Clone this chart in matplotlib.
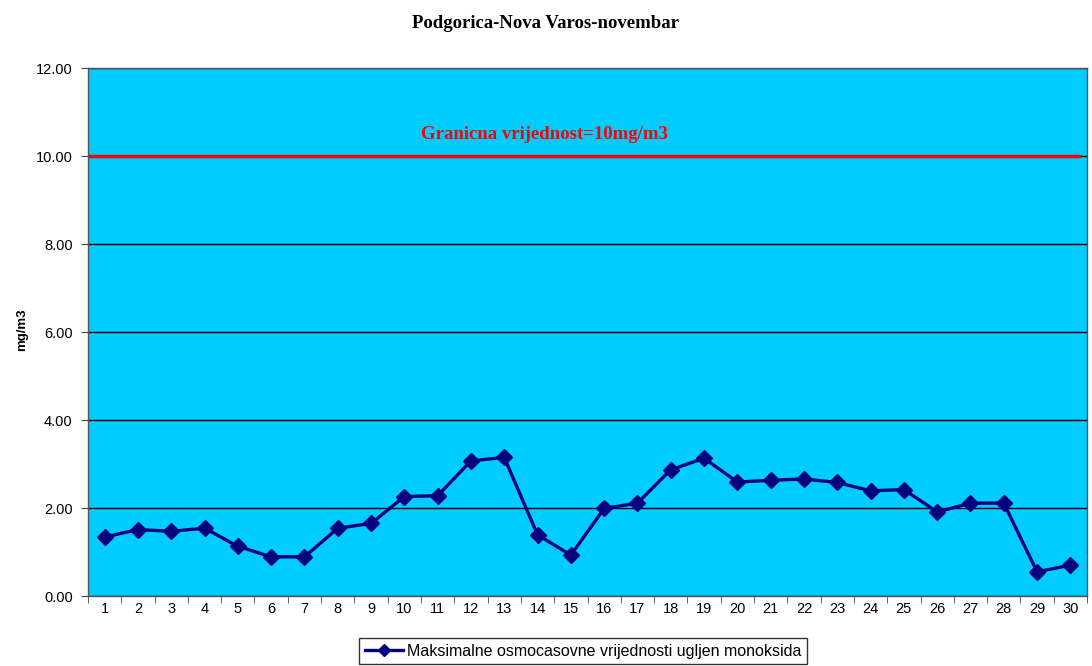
import matplotlib
matplotlib.use("Agg")
import matplotlib.pyplot as plt
from matplotlib.lines import Line2D

days = list(range(1, 31))
values = [1.34, 1.51, 1.47, 1.54, 1.13, 0.89, 0.89, 1.54, 1.65, 2.26,
          2.28, 3.07, 3.15, 1.39, 0.93, 1.99, 2.11, 2.87, 3.13, 2.59,
          2.63, 2.66, 2.58, 2.39, 2.42, 1.91, 2.11, 2.11, 0.55, 0.70]
limit_value = 10.0
yticks = [0, 2, 4, 6, 8, 10, 12]
title = "Podgorica-Nova Varos-novembar"
ylabel = "mg/m3"
limit_label = "Granicna vrijednost=10mg/m3"
series_label = "Maksimalne osmocasovne vrijednosti ugljen monoksida"

fig = plt.figure(figsize=(10.92, 6.66), dpi=100)
ax = fig.add_axes([88/1092, 1 - 596/666, (1087 - 88)/1092, (596 - 68)/666])
ax.set_facecolor("#00CCFF")

ax.set_xlim(0.5, 30.5)
ax.set_ylim(0, 12)
ax.set_yticks(yticks)
ax.set_yticklabels([f"{v:.2f}" for v in yticks], fontsize=10.5, family="Liberation Sans")
ax.yaxis.grid(True, color="black", linewidth=1.0)
ax.set_axisbelow(True)

ax.set_xticks(days)
ax.set_xticklabels([str(d) for d in days], fontsize=10.5, family="Liberation Sans")
ax.set_xticks([d + 0.5 for d in [0] + days], minor=True)
ax.tick_params(axis="x", which="major", length=0, pad=4)
ax.tick_params(axis="x", which="minor", length=5, color="#444444")
ax.tick_params(axis="y", length=5, color="#444444", pad=6)

for s in ["top", "right", "left", "bottom"]:
    ax.spines[s].set_color("#555555")
    ax.spines[s].set_linewidth(1.0)
    ax.spines[s].set_zorder(5)

ax.axhline(limit_value, xmin=0.0, xmax=0.992, color="#FF0000", linewidth=2.5, zorder=3)
ax.text(14.2, 10.48, limit_label, color="#FF0000", fontsize=13.5, fontweight="bold",
        family="Liberation Serif", ha="center", va="center")

ax.plot(days, values, color="#000080", linewidth=2.4, marker="D", markersize=8.5,
        markerfacecolor="#000080", markeredgecolor="#000080", zorder=4)

fig.text(0.5, 1 - 23/666, title, ha="center", va="center", fontsize=13.5,
         fontweight="bold", family="Liberation Serif")
fig.text(22/1092, 1 - 330/666, ylabel, rotation=90, ha="center", va="center",
         fontsize=9.5, fontweight="bold", family="Liberation Sans")

handle = Line2D([], [], color="#000080", linewidth=2.4, marker="D", markersize=6)
leg = fig.legend([handle], [series_label], loc="upper center",
                 bbox_to_anchor=(583/1092, 1 - 638/666),
                 frameon=True, fancybox=False, edgecolor="black",
                 prop={"family": "Liberation Sans", "size": 11.5}, handlelength=2.4,
                 borderpad=0.35, handletextpad=0.2, borderaxespad=0)
leg.get_frame().set_linewidth(1.0)

fig.savefig("out.png", dpi=100)
